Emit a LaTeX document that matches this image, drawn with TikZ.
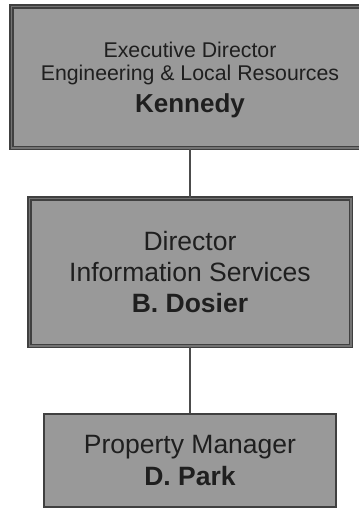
\documentclass[tikz,border=0pt]{standalone}
\usepackage{fontspec}
\setmainfont{Liberation Sans}

\begin{document}
\begin{tikzpicture}[x=0.5pt,y=-0.5pt,
        post/.style={draw=black!75,fill=black!40,text=black!88,inner sep=0pt,align=center},
        dblpost/.style={post,line width=0.75pt,double=black!55,double distance=0.75pt},
        link/.style={draw=black!70,line width=0.9pt}]
        \useasboundingbox (0,0) rectangle (359,510);
        \clip (0,0) rectangle (359,510);

        \node [dblpost,minimum width=178.75pt,minimum height=70.75pt,
               font=\fontsize{10.65}{11.5}\selectfont] (exec) at (190,77)
              {\rule{0pt}{10.6pt}Executive Director\\Engineering \& Local Resources\\[3.5pt]{\fontsize{13}{15}\selectfont\bfseries Kennedy}};
        \node [dblpost,minimum width=160.75pt,minimum height=73.75pt,
               font=\fontsize{13.25}{15.5}\selectfont] (dir) at (190,272)
              {Director\\Information Services\\{\bfseries B. Dosier}};
        \node [post,line width=1pt,minimum width=146pt,minimum height=46.5pt,
               font=\fontsize{13.25}{16}\selectfont] (prop) at (190,460.5)
              {Property Manager\\{\bfseries D. Park}};

        \draw [link] (exec) -- (dir);
        \draw [link] (dir) -- (prop);
      \end{tikzpicture}
\end{document}
